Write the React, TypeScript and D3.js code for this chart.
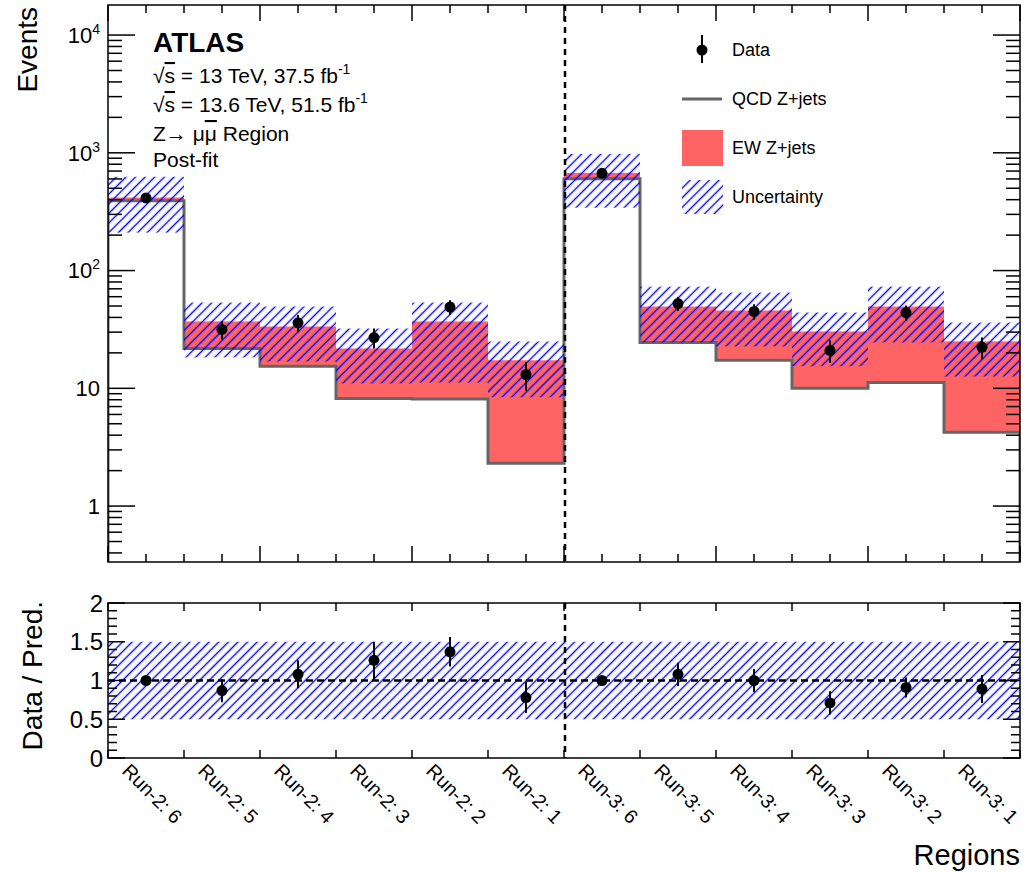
import React from "react";
import * as d3 from "d3";

const categories = [
  "Run-2: 6", "Run-2: 5", "Run-2: 4", "Run-2: 3", "Run-2: 2", "Run-2: 1",
  "Run-3: 6", "Run-3: 5", "Run-3: 4", "Run-3: 3", "Run-3: 2", "Run-3: 1",
];
const qcdZjets = [392, 21.8, 15.4, 8.2, 8.1, 2.31, 602, 24.5, 17.3, 10.0, 11.2, 4.24];
const ewZjets = [25, 15.2, 18.1, 13.6, 28.9, 15.0, 74, 25.0, 28.5, 20.4, 38.3, 20.8];
const uncUp = [626, 53.5, 49.5, 32.2, 53.5, 25.0, 980, 73, 65, 44, 73, 36.2];
const uncDown = [210, 18.3, 16.9, 11.0, 11.2, 8.4, 342, 24.5, 22.7, 15.4, 24.5, 12.6];
const dataValues = [414, 31.6, 36, 27, 49, 13.1, 670, 52.5, 45, 21, 44, 22.3];
const dataErrors = [20, 5.6, 6, 5.2, 7, 3.6, 26, 7.2, 6.7, 4.6, 6.6, 4.7];
const ratioValues = [1.0, 0.87, 1.08, 1.26, 1.37, 0.78, 1.0, 1.08, 1.0, 0.71, 0.91, 0.89];
const ratioErrors = [0.05, 0.15, 0.18, 0.24, 0.19, 0.2, 0.04, 0.15, 0.15, 0.15, 0.13, 0.18];
const ratioUncLow = [0.5, 0.5, 0.5, 0.5, 0.5, 0.5, 0.5, 0.5, 0.5, 0.5, 0.5, 0.5];
const ratioUncHigh = [1.5, 1.5, 1.5, 1.5, 1.5, 1.5, 1.5, 1.5, 1.5, 1.5, 1.5, 1.5];
const mainYTicks = [1, 10, 100, 1000, 10000];
const ratioYTicks = [0, 0.5, 1, 1.5, 2];
const ratioYTickLabels = ["0", "0.5", "1", "1.5", "2"];
const legendLabels = ["Data", "QCD Z+jets", "EW Z+jets", "Uncertainty"];
const runSplit = 6;

const FONT = "'Liberation Sans', Arial, Helvetica, sans-serif";
const W = 1026;
const H = 872;
const L = 108;
const R = 1020;
const MT = 5;
const MB = 562;
const RT = 603;
const RB = 758;
const RED = "#ff6464";
const GREY = "#666666";
const BLUE = "#0000ff";

export default function App() {
  const nb = categories.length;
  const x = d3.scaleLinear().domain([0, nb]).range([L, R]);
  const y = d3.scaleLog().domain([0.335, 18000]).range([MB, MT]);
  const yr = d3.scaleLinear().domain([0, 2]).range([RB, RT]);

  const pts: [number, number][] = [[x(0), MB]];
  qcdZjets.forEach((v, i) => pts.push([x(i), y(v)]));
  pts.push([x(nb), y(qcdZjets[nb - 1])]);
  pts.push([x(nb), MB]);
  const stepPath = d3.line().curve(d3.curveStepAfter)(pts) || "";

  const logTicks: { v: number; major: boolean }[] = [];
  for (let d = -1; d <= 4; d++) {
    for (let k = 1; k <= 9; k++) {
      const v = k * Math.pow(10, d);
      if (v >= 0.335 && v <= 18000) logTicks.push({ v, major: k === 1 });
    }
  }
  const xMainTicks = d3.range(0, nb + 0.01, 0.5);
  const ratioMinor = d3.range(0, 2.001, 0.1);

  const sup = (s: string) => (
    <tspan dy={-9} fontSize={14}>{s}</tspan>
  );

  return (
    <svg
      width={W}
      height={H}
      style={{ position: "absolute", left: 0, top: 0, background: "#fff" }}
      fontFamily={FONT}
    >
      <defs>
        <pattern
          id="hatch"
          patternUnits="userSpaceOnUse"
          width={6.8}
          height={6.8}
          patternTransform="rotate(45)"
        >
          <line x1={3.4} y1={0} x2={3.4} y2={6.8} stroke={BLUE} strokeWidth={1.4} />
        </pattern>
        <clipPath id="clipMain">
          <rect x={L} y={MT} width={R - L} height={MB - MT} />
        </clipPath>
        <clipPath id="clipRatio">
          <rect x={L} y={RT} width={R - L} height={RB - RT} />
        </clipPath>
      </defs>

      {/* ---------- Main panel ---------- */}
      <g clipPath="url(#clipMain)">
        {ewZjets.map((v, i) => (
          <rect
            key={"ew" + i}
            x={x(i)}
            width={x(i + 1) - x(i)}
            y={y(qcdZjets[i] + v)}
            height={y(qcdZjets[i]) - y(qcdZjets[i] + v)}
            fill={RED}
          />
        ))}
        <path d={stepPath} fill="none" stroke={GREY} strokeWidth={3} />
        {uncUp.map((v, i) => (
          <rect
            key={"unc" + i}
            x={x(i)}
            width={x(i + 1) - x(i)}
            y={y(v)}
            height={y(uncDown[i]) - y(v)}
            fill="url(#hatch)"
          />
        ))}
        {dataValues.map((v, i) => (
          <g key={"d" + i}>
            <line
              x1={x(i + 0.5)}
              x2={x(i + 0.5)}
              y1={y(v - dataErrors[i])}
              y2={y(v + dataErrors[i])}
              stroke="#000"
              strokeWidth={2}
            />
            <circle cx={x(i + 0.5)} cy={y(v)} r={5.5} fill="#000" />
          </g>
        ))}
        <line
          x1={x(runSplit) + 1}
          x2={x(runSplit) + 1}
          y1={MT}
          y2={MB}
          stroke="#000"
          strokeWidth={2.5}
          strokeDasharray="6,5"
        />
      </g>

      <rect x={L} y={MT} width={R - L} height={MB - MT} fill="none" stroke="#000" strokeWidth={1.5} />
      {logTicks.map((t, i) => {
        const len = t.major ? 27 : 14;
        return (
          <g key={"lt" + i}>
            <line x1={L} x2={L + len} y1={y(t.v)} y2={y(t.v)} stroke="#000" strokeWidth={1.5} />
            <line x1={R} x2={R - len} y1={y(t.v)} y2={y(t.v)} stroke="#000" strokeWidth={1.5} />
          </g>
        );
      })}
      {xMainTicks.map((t, i) => {
        const len = i % 4 === 0 ? 16 : 8;
        return (
          <g key={"xt" + i}>
            <line x1={x(t)} x2={x(t)} y1={MB} y2={MB - len} stroke="#000" strokeWidth={1.5} />
            <line x1={x(t)} x2={x(t)} y1={MT} y2={MT + len} stroke="#000" strokeWidth={1.5} />
          </g>
        );
      })}
      {mainYTicks.map((v, i) => {
        const exp = Math.round(Math.log10(v));
        return (
          <text key={"yl" + i} x={100} y={y(v)} dy="0.36em" textAnchor="end" fontSize={22}>
            {exp === 0 ? "1" : exp === 1 ? "10" : (<>10{sup(String(exp))}</>)}
          </text>
        );
      })}
      <text transform={`translate(37,7) rotate(-90)`} textAnchor="end" fontSize={28}>
        Events
      </text>

      <text x={153} y={52} fontSize={28} fontWeight="bold">ATLAS</text>
      <text x={153} y={83} fontSize={21}>
        √<tspan style={{ textDecoration: "overline" }}>s</tspan> = 13 TeV, 37.5 fb
        <tspan dy={-9} fontSize={14}>-1</tspan>
      </text>
      <text x={153} y={112} fontSize={21}>
        √<tspan style={{ textDecoration: "overline" }}>s</tspan> = 13.6 TeV, 51.5 fb
        <tspan dy={-9} fontSize={14}>-1</tspan>
      </text>
      <text x={153} y={141} fontSize={21}>
        Z→ μ<tspan style={{ textDecoration: "overline" }}>μ</tspan> Region
      </text>
      <text x={153} y={167} fontSize={21}>Post-fit</text>

      <g>
        <line x1={702} x2={702} y1={35} y2={63} stroke="#000" strokeWidth={2} />
        <circle cx={702} cy={50} r={5.5} fill="#000" />
        <text x={732} y={56} fontSize={18}>{legendLabels[0]}</text>
        <line x1={682} x2={722} y1={99} y2={99} stroke={GREY} strokeWidth={3} />
        <text x={732} y={105} fontSize={18}>{legendLabels[1]}</text>
        <rect x={682} y={130} width={41} height={36} fill={RED} />
        <text x={732} y={154} fontSize={18}>{legendLabels[2]}</text>
        <rect x={682} y={180} width={41} height={34} fill="url(#hatch)" />
        <text x={732} y={203} fontSize={18}>{legendLabels[3]}</text>
      </g>

      {/* ---------- Ratio panel ---------- */}
      <g clipPath="url(#clipRatio)">
        {ratioUncHigh.map((v, i) => (
          <rect
            key={"ru" + i}
            x={x(i)}
            width={x(i + 1) - x(i)}
            y={yr(v)}
            height={yr(ratioUncLow[i]) - yr(v)}
            fill="url(#hatch)"
          />
        ))}
        <line x1={L} x2={R} y1={yr(1)} y2={yr(1)} stroke="#000" strokeWidth={2.5} strokeDasharray="7,4" />
        <line
          x1={x(runSplit) + 1}
          x2={x(runSplit) + 1}
          y1={RT}
          y2={RB}
          stroke="#000"
          strokeWidth={2.5}
          strokeDasharray="6,5"
        />
        {ratioValues.map((v, i) => (
          <g key={"r" + i}>
            <line
              x1={x(i + 0.5)}
              x2={x(i + 0.5)}
              y1={yr(v - ratioErrors[i])}
              y2={yr(v + ratioErrors[i])}
              stroke="#000"
              strokeWidth={2}
            />
            <circle cx={x(i + 0.5)} cy={yr(v)} r={5.5} fill="#000" />
          </g>
        ))}
      </g>
      <rect x={L} y={RT} width={R - L} height={RB - RT} fill="none" stroke="#000" strokeWidth={1.5} />
      {ratioMinor.map((t, i) => {
        const len = i % 5 === 0 ? 17 : 9;
        return (
          <g key={"rt" + i}>
            <line x1={L} x2={L + len} y1={yr(t)} y2={yr(t)} stroke="#000" strokeWidth={1.5} />
            <line x1={R} x2={R - len} y1={yr(t)} y2={yr(t)} stroke="#000" strokeWidth={1.5} />
          </g>
        );
      })}
      {d3.range(0, nb + 1).map((t) => (
        <g key={"rx" + t}>
          <line x1={x(t)} x2={x(t)} y1={RT} y2={RT + 8} stroke="#000" strokeWidth={1.5} />
          <line x1={x(t)} x2={x(t)} y1={RB} y2={RB - 8} stroke="#000" strokeWidth={1.5} />
        </g>
      ))}
      {ratioYTicks.map((v, i) => (
        <text key={"ryl" + i} x={103} y={yr(v)} dy="0.36em" textAnchor="end" fontSize={24}>
          {ratioYTickLabels[i]}
        </text>
      ))}
      <text transform={`translate(42,601) rotate(-90)`} textAnchor="end" fontSize={28}>
        Data / Pred.
      </text>

      {categories.map((c, i) => (
        <text
          key={"xl" + i}
          transform={`translate(${x(i + 0.5) - 25},772) rotate(45)`}
          fontSize={19.5}
        >
          {c}
        </text>
      ))}
      <text x={R} y={865} textAnchor="end" fontSize={29}>Regions</text>
    </svg>
  );
}
